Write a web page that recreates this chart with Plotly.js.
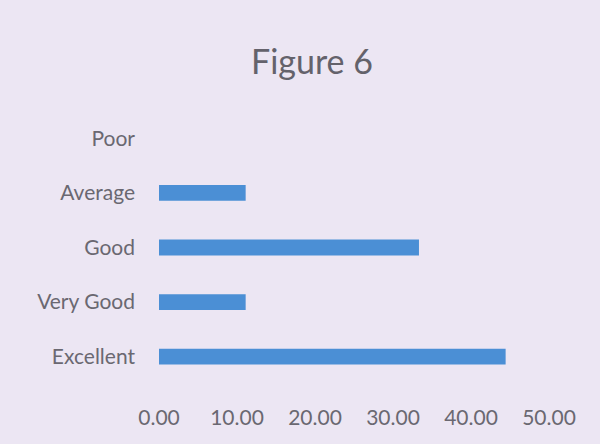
<!DOCTYPE html>
<html>
<head>
<meta charset="utf-8">
<script src="https://cdn.plot.ly/plotly-3.0.1.min.js"></script>
<style>html,body{margin:0;padding:0;background:#ece6f3;}#chart{width:600px;height:444px;}</style>
</head>
<body>
<div id="chart"></div>
<script>
var categories = ["Excellent", "Very Good", "Good", "Average", "Poor"];
var values = [44.44, 11.11, 33.33, 11.11, 0];
var xTicks = [0, 10, 20, 30, 40, 50];
var xTickLabels = ["0.00", "10.00", "20.00", "30.00", "40.00", "50.00"];

var trace = {
  type: "bar",
  orientation: "h",
  y: categories,
  x: values,
  width: 0.29,
  marker: {color: "#4b8fd5"},
  hoverinfo: "x+y"
};

var layout = {
  width: 600,
  height: 444,
  paper_bgcolor: "#ece6f3",
  plot_bgcolor: "#ece6f3",
  margin: {l: 159, r: 51, t: 111, b: 60},
  showlegend: false,
  title: {
    text: "Figure 6",
    font: {family: "Lato, 'Open Sans', sans-serif", size: 34, color: "#64626b"},
    x: 312 / 600, xanchor: "center", xref: "container",
    y: 1 - 62 / 444, yanchor: "middle", yref: "container"
  },
  xaxis: {
    range: [0, 50],
    tickvals: xTicks,
    ticktext: xTickLabels,
    showgrid: false,
    zeroline: false,
    showline: false,
    ticks: "",
    ticklabelstandoff: 19,
    tickfont: {family: "Lato, 'Open Sans', sans-serif", size: 21, color: "#6a6871"},
    fixedrange: true
  },
  yaxis: {
    type: "category",
    categoryorder: "array",
    categoryarray: categories,
    showgrid: false,
    zeroline: false,
    showline: false,
    ticks: "",
    ticklabelstandoff: 23,
    tickfont: {family: "Lato, 'Open Sans', sans-serif", size: 21, color: "#6a6871"},
    fixedrange: true
  }
};

Plotly.newPlot("chart", [trace], layout, {displayModeBar: false, staticPlot: true});
</script>
</body>
</html>
